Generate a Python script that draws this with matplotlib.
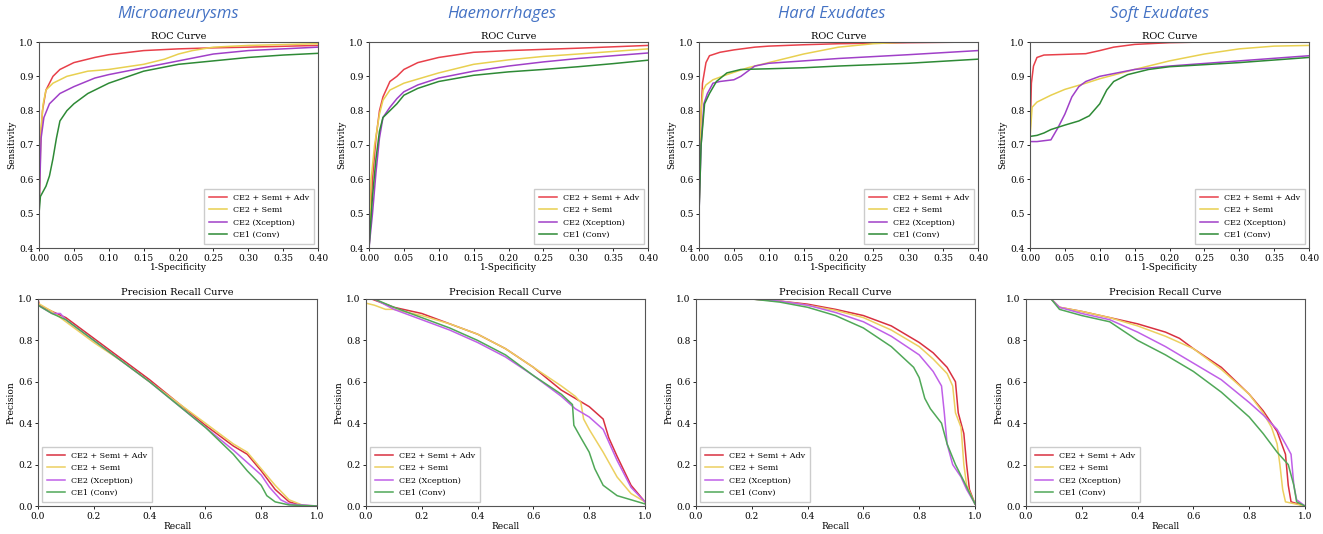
import matplotlib
matplotlib.use("Agg")
import matplotlib.pyplot as plt
import numpy as np

plt.rcParams['font.family'] = 'DejaVu Serif'

lesions = ["Microaneurysms", "Haemorrhages", "Hard Exudates", "Soft Exudates"]
models = ["CE2 + Semi + Adv", "CE2 + Semi", "CE2 (Xception)", "CE1 (Conv)"]
roc_colors = ["#e8404a", "#e8d050", "#a040c8", "#2e8a36"]
pr_colors = ["#d83040", "#ecd060", "#c060e8", "#50a858"]

# ROC curves: (fpr, tpr) per lesion, per model
roc_ma = [
    ([0, .002, .005, .01, .02, .03, .05, .08, .1, .15, .2, .25, .3, .4],
     [.5, .7, .8, .86, .9, .92, .94, .955, .963, .975, .98, .983, .985, .99]),
    ([0, .003, .006, .01, .02, .04, .07, .1, .15, .18, .2, .22, .25, .3, .4],
     [.5, .75, .82, .86, .88, .9, .915, .92, .935, .95, .965, .975, .985, .99, .995]),
    ([0, .003, .007, .015, .03, .05, .08, .1, .15, .2, .25, .3, .35, .4],
     [.5, .72, .78, .82, .85, .87, .895, .905, .925, .945, .965, .975, .98, .985]),
    ([0, .002, .01, .015, .02, .025, .03, .04, .05, .07, .1, .15, .2, .25, .3, .35, .4],
     [.5, .55, .58, .61, .66, .72, .77, .8, .82, .85, .88, .915, .935, .945, .955, .962, .967]),
]
roc_he = [
    ([0, .005, .01, .015, .02, .03, .04, .05, .07, .1, .15, .2, .3, .4],
     [.4, .6, .72, .8, .84, .885, .9, .92, .94, .955, .97, .975, .982, .99]),
    ([0, .003, .008, .015, .02, .03, .05, .1, .15, .2, .25, .3, .4],
     [.4, .6, .7, .79, .83, .86, .88, .91, .935, .948, .958, .965, .98]),
    ([0, .005, .01, .015, .02, .03, .04, .05, .07, .1, .15, .2, .25, .3, .35, .4],
     [.4, .5, .62, .72, .78, .81, .835, .855, .875, .895, .915, .93, .942, .952, .96, .968]),
    ([0, .005, .01, .015, .02, .03, .04, .05, .07, .1, .15, .2, .25, .3, .35, .4],
     [.4, .55, .66, .74, .78, .8, .82, .845, .865, .885, .903, .913, .92, .928, .937, .947]),
]
roc_hx = [
    ([0, .002, .005, .01, .015, .03, .05, .08, .1, .15, .2, .3, .4],
     [.5, .75, .88, .94, .96, .97, .977, .985, .988, .992, .995, .998, 1.0]),
    ([0, .003, .006, .01, .02, .04, .07, .1, .15, .2, .25, .3, .4],
     [.5, .8, .86, .875, .89, .905, .925, .94, .965, .985, .995, 1.0, 1.0]),
    ([0, .003, .007, .012, .02, .03, .05, .06, .07, .08, .1, .15, .2, .3, .4],
     [.5, .7, .82, .85, .88, .885, .89, .9, .915, .93, .938, .945, .952, .963, .975]),
    ([0, .003, .008, .015, .025, .04, .06, .1, .15, .2, .3, .4],
     [.5, .7, .82, .85, .885, .91, .92, .922, .925, .93, .938, .95]),
]
roc_sx = [
    ([0, .002, .005, .01, .02, .05, .08, .1, .12, .15, .2, .25, .4],
     [.72, .88, .93, .955, .962, .964, .966, .975, .985, .993, .998, 1.0, 1.0]),
    ([0, .003, .01, .03, .05, .08, .1, .15, .2, .25, .3, .35, .4],
     [.72, .81, .825, .845, .862, .88, .893, .92, .945, .965, .98, .988, .99]),
    ([0, .01, .03, .04, .05, .06, .07, .08, .1, .15, .2, .3, .4],
     [.71, .71, .715, .75, .79, .84, .87, .885, .9, .92, .93, .945, .96]),
    ([0, .01, .02, .03, .05, .07, .085, .1, .11, .12, .14, .17, .2, .3, .4],
     [.725, .728, .735, .745, .758, .77, .785, .82, .86, .885, .905, .92, .928, .94, .955]),
]

# Precision-recall curves: (recall, precision)
pr_ma = [
    ([0, .005, .05, .1, .2, .3, .4, .5, .6, .7, .75, .8, .85, .9, .95, 1.0],
     [1.0, .97, .94, .91, .81, .71, .61, .5, .39, .29, .25, .17, .08, .02, .002, 0]),
    ([0, .05, .1, .2, .3, .4, .5, .6, .7, .75, .8, .85, .9, .95, 1.0],
     [.98, .94, .89, .79, .7, .6, .5, .4, .3, .26, .18, .1, .03, .003, 0]),
    ([0, .05, .08, .1, .2, .3, .4, .5, .6, .7, .75, .8, .83, .87, .9, 1.0],
     [.97, .93, .93, .9, .8, .7, .6, .49, .38, .27, .21, .15, .09, .03, .01, 0]),
    ([0, .05, .1, .2, .3, .4, .5, .6, .7, .75, .8, .82, .85, .9, 1.0],
     [.97, .93, .9, .8, .7, .6, .49, .38, .25, .17, .1, .05, .02, .005, 0]),
]
pr_he = [
    ([.02, .1, .2, .3, .4, .5, .6, .7, .75, .8, .85, .87, .9, .95, 1.0],
     [1.0, .96, .93, .88, .83, .76, .67, .56, .52, .48, .42, .33, .24, .1, .02]),
    ([0, .03, .07, .1, .2, .3, .4, .5, .6, .7, .75, .77, .78, .8, .85, .9, .95, 1.0],
     [.98, .97, .95, .95, .92, .88, .83, .76, .67, .58, .53, .5, .42, .37, .26, .14, .06, .02]),
    ([.03, .1, .2, .3, .4, .5, .6, .7, .75, .8, .85, .9, .95, 1.0],
     [1.0, .95, .9, .85, .79, .72, .63, .53, .47, .43, .37, .22, .09, .02]),
    ([.03, .1, .2, .3, .4, .5, .6, .7, .74, .745, .77, .8, .82, .85, .9, .95, 1.0],
     [1.0, .96, .91, .86, .8, .73, .63, .54, .49, .39, .33, .26, .18, .1, .05, .03, .01]),
]
pr_hx = [
    ([.2, .3, .4, .5, .6, .7, .8, .85, .9, .93, .94, .96, .97, .98, 1.0],
     [1.0, .99, .975, .95, .92, .87, .79, .74, .67, .6, .45, .35, .2, .08, .01]),
    ([.2, .3, .4, .5, .6, .7, .8, .85, .9, .92, .93, .95, .96, .97, 1.0],
     [1.0, .99, .97, .945, .91, .85, .77, .71, .64, .58, .45, .38, .2, .1, .01]),
    ([.2, .3, .4, .5, .6, .7, .8, .85, .88, .89, .9, .92, .95, .97, 1.0],
     [1.0, .99, .97, .935, .89, .82, .73, .65, .58, .45, .3, .2, .14, .08, .01]),
    ([.2, .3, .4, .5, .6, .7, .78, .8, .82, .84, .88, .9, .93, .96, 1.0],
     [1.0, .985, .96, .92, .86, .77, .67, .62, .52, .47, .4, .3, .2, .12, .01]),
]
pr_sx = [
    ([.09, .12, .2, .3, .4, .5, .55, .6, .7, .8, .85, .9, .93, .94, .95, 1.0],
     [1.0, .96, .94, .91, .88, .84, .81, .76, .67, .54, .46, .36, .25, .1, .02, 0]),
    ([.09, .12, .2, .3, .4, .5, .6, .7, .8, .85, .88, .9, .91, .92, .93, 1.0],
     [1.0, .96, .94, .91, .87, .82, .76, .66, .54, .45, .38, .3, .2, .08, .02, 0]),
    ([.09, .12, .2, .3, .4, .5, .6, .7, .8, .85, .9, .93, .95, .96, .97, 1.0],
     [1.0, .96, .93, .9, .84, .77, .69, .61, .5, .44, .37, .3, .25, .1, .03, 0]),
    ([.09, .12, .2, .3, .4, .5, .6, .7, .8, .85, .9, .94, .96, .97, 1.0],
     [1.0, .95, .92, .89, .8, .73, .65, .55, .43, .35, .26, .2, .1, .02, 0]),
]

roc_all = [roc_ma, roc_he, roc_hx, roc_sx]
pr_all = [pr_ma, pr_he, pr_hx, pr_sx]

W, H = 1323, 534
fig = plt.figure(figsize=(W / 100, H / 100), dpi=100)

roc_left = [39, 369, 699, 1030]
pr_left = [38, 366, 696, 1026]
title_x = [178, 502, 832, 1160]
aw = 279

def style(ax):
    for s in ax.spines.values():
        s.set_color('#555555')
        s.set_linewidth(0.8)
    ax.tick_params(labelsize=6.5, length=2.5, width=0.6, pad=1.5)

for i in range(4):
    # ROC
    ax = fig.add_axes([roc_left[i] / W, 1 - 248 / H, aw / W, 206 / H])
    for (x, y), c, lab in zip(roc_all[i], roc_colors, models):
        ax.plot(x, y, color=c, lw=1.1, label=lab)
    ax.set_xlim(0, 0.4)
    ax.set_ylim(0.4, 1.0)
    ax.set_xticks(np.arange(0, 0.41, 0.05))
    ax.set_xticklabels(["%.2f" % t for t in np.arange(0, 0.41, 0.05)])
    ax.set_yticks(np.arange(0.4, 1.01, 0.1))
    ax.set_yticklabels(["%.1f" % t for t in np.arange(0.4, 1.01, 0.1)])
    ax.set_title("ROC Curve", fontsize=7, pad=2)
    ax.set_xlabel("1-Specificity", fontsize=6.5, labelpad=0)
    ax.set_ylabel("Sensitivity", fontsize=6.5, labelpad=2)
    ax.legend(loc='lower right', fontsize=5.8, framealpha=1, edgecolor='#cccccc',
              fancybox=False, handlelength=2.2, borderpad=0.6, labelspacing=0.55)
    style(ax)

    # Precision recall
    ax = fig.add_axes([pr_left[i] / W, 1 - 506 / H, aw / W, 207 / H])
    for (x, y), c, lab in zip(pr_all[i], pr_colors, models):
        ax.plot(x, y, color=c, lw=1.1, label=lab)
    ax.set_xlim(0, 1)
    ax.set_ylim(0, 1)
    ax.set_xticks(np.arange(0, 1.01, 0.2))
    ax.set_xticklabels(["%.1f" % t for t in np.arange(0, 1.01, 0.2)])
    ax.set_yticks(np.arange(0, 1.01, 0.2))
    ax.set_yticklabels(["%.1f" % t for t in np.arange(0, 1.01, 0.2)])
    ax.set_title("Precision Recall Curve", fontsize=7, pad=3)
    ax.set_xlabel("Recall", fontsize=6.5, labelpad=1)
    ax.set_ylabel("Precision", fontsize=6.5, labelpad=2)
    ax.legend(loc='lower left', fontsize=5.8, framealpha=1, edgecolor='#cccccc',
              fancybox=False, handlelength=2.2, borderpad=0.6, labelspacing=0.55)
    style(ax)

    fig.text(title_x[i] / W, 1 - 14 / H, lesions[i], fontsize=12, style='italic',
             color='#4472c4', family='Open Sans', ha='center', va='center')

fig.savefig("out.png", dpi=100, facecolor='white')
